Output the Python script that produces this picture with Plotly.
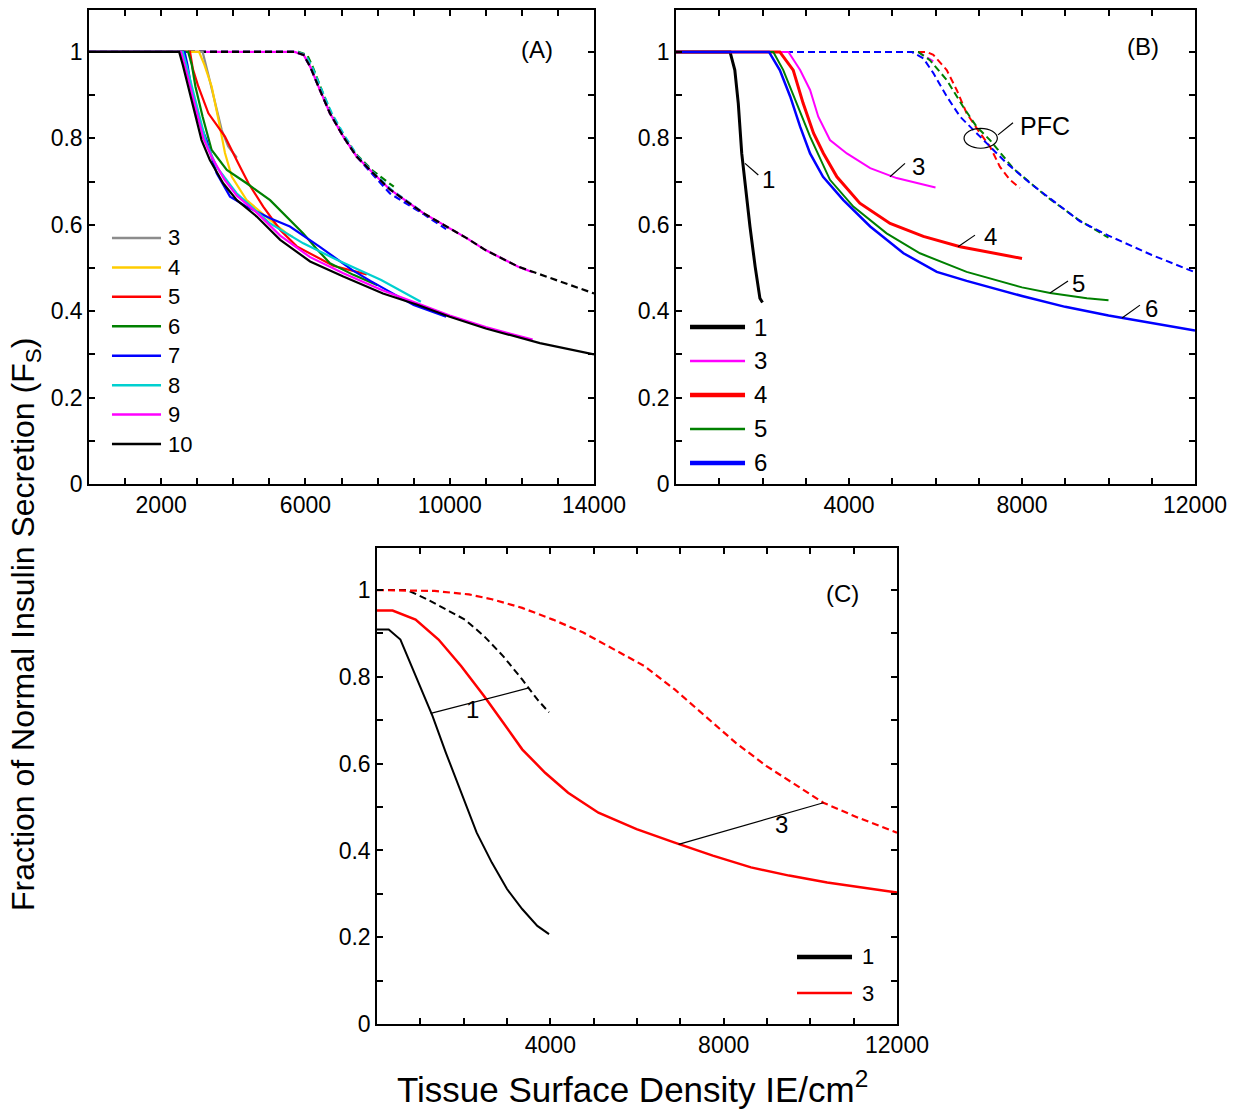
import plotly.graph_objects as go

FONT = "Liberation Sans, Arial, sans-serif"

# ---------------- Panel A data ----------------
A_names = ["3", "4", "5", "6", "7", "8", "9", "10"]
A_colors = ["#8c8c8c", "#ffcc00", "#ff0000", "#008000", "#0000ff", "#00d0d0", "#ff00ff", "#000000"]

A3_x = [0, 3150, 3300, 3490, 3680, 3860, 4100]
A3_y = [1, 1, 0.95, 0.881, 0.819, 0.781, 0.755]
A4_x = [0, 3050, 3200, 3400, 3590, 3770, 3960, 4370, 5020, 5480, 5650]
A4_y = [1, 1, 0.97, 0.92, 0.843, 0.766, 0.711, 0.657, 0.611, 0.58, 0.572]
A5_x = [0, 2800, 2880, 3030, 3310, 3770, 4140, 4420, 4830, 5300, 5760, 6220, 6770, 7700]
A5_y = [1, 1, 0.96, 0.92, 0.858, 0.804, 0.742, 0.696, 0.642, 0.588, 0.55, 0.53, 0.505, 0.485]
A6_x = [0, 2750, 2850, 2950, 3150, 3400, 3820, 4370, 5020, 5570, 5940, 6300, 6680, 7330, 8000]
A6_y = [1, 1, 0.97, 0.92, 0.85, 0.773, 0.727, 0.696, 0.657, 0.611, 0.58, 0.545, 0.511, 0.484, 0.46]
A7_x = [0, 2650, 2730, 2830, 3000, 3260, 3540, 3910, 4370, 5020, 5570, 6400, 7300, 7800, 9000, 9900]
A7_y = [1, 1, 0.97, 0.92, 0.85, 0.796, 0.719, 0.665, 0.642, 0.615, 0.596, 0.549, 0.495, 0.47, 0.414, 0.387]
A8_x = [0, 2600, 2700, 2850, 3050, 3250, 3540, 4090, 5020, 5940, 6870, 8100, 9200]
A8_y = [1, 1, 0.97, 0.92, 0.85, 0.79, 0.734, 0.673, 0.603, 0.557, 0.519, 0.472, 0.422]
A9_x = [0, 2550, 2650, 2800, 3000, 3170, 3400, 3750, 4100, 4650, 5300, 6130, 7050, 8150, 9100, 10000, 11000, 12300]
A9_y = [1, 1, 0.97, 0.92, 0.85, 0.80, 0.757, 0.705, 0.667, 0.628, 0.575, 0.525, 0.488, 0.448, 0.418, 0.39, 0.363, 0.334]
A10_x = [0, 2500, 2600, 2750, 2950, 3120, 3350, 3720, 4100, 4650, 5300, 6130, 7050, 8150, 9100, 10000, 11000, 12500, 14000]
A10_y = [1, 1, 0.97, 0.92, 0.85, 0.796, 0.75, 0.696, 0.657, 0.619, 0.565, 0.515, 0.48, 0.441, 0.415, 0.387, 0.36, 0.326, 0.30]

# dashed (upper) curves, panel A
A3d_x = [0, 4100]
A3d_y = [1, 1]
A4d_x = [0, 5650]
A4d_y = [1, 1]
A5d_x = [0, 5750, 6000, 6150, 6400, 6680, 7050, 7420, 7700]
A5d_y = [1, 1, 0.993, 0.966, 0.912, 0.858, 0.804, 0.758, 0.735]
A6d_x = [0, 5800, 6050, 6200, 6450, 6700, 7050, 7420, 7880, 8450]
A6d_y = [1, 1, 0.993, 0.966, 0.912, 0.86, 0.806, 0.762, 0.724, 0.688]
A7d_x = [0, 5700, 5950, 6130, 6400, 6680, 7050, 7420, 7880, 8350, 9270, 9900]
A7d_y = [1, 1, 0.993, 0.966, 0.912, 0.858, 0.804, 0.758, 0.715, 0.672, 0.625, 0.59]
A8d_x = [0, 5750, 6000, 6180, 6450, 6730, 7100, 7450, 7900, 8400, 9200]
A8d_y = [1, 1, 0.993, 0.966, 0.912, 0.858, 0.804, 0.758, 0.719, 0.68, 0.632]
A9d_x = [0, 5700, 5950, 6130, 6400, 6680, 7050, 7420, 7880, 8350, 9270, 10470, 10980, 11900, 12300]
A9d_y = [1, 1, 0.993, 0.966, 0.912, 0.858, 0.804, 0.758, 0.719, 0.681, 0.627, 0.569, 0.542, 0.503, 0.49]
A10d_x = [0, 5700, 5950, 6130, 6400, 6680, 7050, 7420, 7880, 8350, 9270, 10470, 10980, 11900, 14000]
A10d_y = [1, 1, 0.993, 0.966, 0.912, 0.858, 0.804, 0.758, 0.719, 0.681, 0.627, 0.569, 0.542, 0.503, 0.441]

A_solid = [(A3_x, A3_y), (A4_x, A4_y), (A5_x, A5_y), (A6_x, A6_y),
           (A7_x, A7_y), (A8_x, A8_y), (A9_x, A9_y), (A10_x, A10_y)]
A_dashed = [(A3d_x, A3d_y), (A4d_x, A4d_y), (A5d_x, A5d_y), (A6d_x, A6d_y),
            (A7d_x, A7d_y), (A8d_x, A8d_y), (A9d_x, A9d_y), (A10d_x, A10d_y)]

# ---------------- Panel B data ----------------
B_names = ["1", "3", "4", "5", "6"]
B_colors = ["#000000", "#ff00ff", "#ff0000", "#008000", "#0000ff"]
B_widths = [3, 2, 3, 2, 2.5]
B_leg_widths = [4.5, 2.5, 4.5, 2.5, 4.5]

B1_x = [0, 1250, 1360, 1440, 1520, 1600, 1710, 1830, 1940, 2000]
B1_y = [1, 1, 0.958, 0.881, 0.765, 0.688, 0.596, 0.503, 0.43, 0.42]
B3_x = [0, 2600, 2870, 3100, 3290, 3560, 3950, 4490, 5100, 6000]
B3_y = [1, 1, 0.958, 0.912, 0.85, 0.796, 0.765, 0.731, 0.708, 0.686]
B4_x = [0, 2400, 2710, 2940, 3180, 3410, 3720, 4250, 4950, 5720, 6570, 7300, 8000]
B4_y = [1, 1, 0.958, 0.881, 0.812, 0.765, 0.711, 0.65, 0.603, 0.573, 0.549, 0.535, 0.522]
B5_x = [0, 2250, 2480, 2790, 3100, 3560, 4100, 4870, 5640, 6720, 8000, 8650, 9500, 10000]
B5_y = [1, 1, 0.958, 0.881, 0.804, 0.704, 0.642, 0.58, 0.534, 0.491, 0.455, 0.442, 0.43, 0.425]
B6_x = [0, 2150, 2400, 2640, 2870, 3100, 3400, 3870, 4490, 5260, 6030, 6720, 8000, 9000, 10000, 11000, 12000]
B6_y = [1, 1, 0.958, 0.897, 0.827, 0.765, 0.711, 0.657, 0.596, 0.534, 0.491, 0.47, 0.435, 0.41, 0.39, 0.372, 0.355]

B1d_x = [0, 2000]
B1d_y = [1, 1]
B3d_x = [0, 5600, 6000]
B3d_y = [1, 1, 0.975]
B4d_x = [0, 5800, 5950, 6260, 6490, 6720, 7030, 7260, 7490, 7720, 7950]
B4d_y = [1, 1, 0.993, 0.958, 0.912, 0.858, 0.812, 0.781, 0.734, 0.704, 0.685]
B5d_x = [0, 5600, 5870, 6260, 6640, 6950, 7260, 7800, 8570, 9300, 10000]
B5d_y = [1, 1, 0.981, 0.935, 0.873, 0.827, 0.796, 0.73, 0.665, 0.612, 0.57]
B6d_x = [0, 5450, 5720, 5950, 6260, 6570, 6880, 7180, 7650, 8190, 8800, 9340, 10000, 11000, 12000]
B6d_y = [1, 1, 0.985, 0.951, 0.897, 0.85, 0.819, 0.789, 0.742, 0.696, 0.65, 0.608, 0.575, 0.53, 0.49]

B_solid = [(B1_x, B1_y), (B3_x, B3_y), (B4_x, B4_y), (B5_x, B5_y), (B6_x, B6_y)]
B_dashed = [(B1d_x, B1d_y), (B3d_x, B3d_y), (B4d_x, B4d_y), (B5d_x, B5d_y), (B6d_x, B6d_y)]

# ---------------- Panel C data ----------------
C_names = ["1", "3"]
C_colors = ["#000000", "#ff0000"]
C1_x = [0, 270, 540, 800, 1065, 1280, 1590, 1940, 2300, 2650, 3000, 3350, 3700, 3970]
C1_y = [0.909, 0.909, 0.886, 0.825, 0.764, 0.71, 0.625, 0.533, 0.441, 0.372, 0.311, 0.265, 0.226, 0.207]
C1d_x = [0, 700, 1150, 1590, 2030, 2470, 2910, 3350, 3700, 3970]
C1d_y = [1, 1, 0.979, 0.955, 0.932, 0.894, 0.848, 0.794, 0.748, 0.718]
C3_x = [0, 360, 890, 1420, 1940, 2470, 2910, 3350, 3880, 4410, 5110, 5990, 6870, 7750, 8630, 9510, 10390, 12000]
C3_y = [0.953, 0.953, 0.932, 0.886, 0.825, 0.756, 0.695, 0.633, 0.579, 0.533, 0.487, 0.449, 0.418, 0.388, 0.361, 0.342, 0.326, 0.303]
C3d_x = [0, 1330, 2120, 2650, 3350, 4060, 4760, 5460, 6170, 6870, 7580, 8280, 8980, 9690, 10300, 11090, 12000]
C3d_y = [1, 0.998, 0.99, 0.979, 0.959, 0.932, 0.902, 0.863, 0.825, 0.771, 0.71, 0.648, 0.595, 0.549, 0.51, 0.476, 0.441]

# ---------------- tick labels ----------------
A_xtick_vals = [2000, 6000, 10000, 14000]
A_xtick_text = ["2000", "6000", "10000", "14000"]
BC_xtick_vals = [4000, 8000, 12000]
BC_xtick_text = ["4000", "8000", "12000"]
ytick_vals = [0, 0.2, 0.4, 0.6, 0.8, 1.0]
ytick_text = ["0", "0.2", "0.4", "0.6", "0.8", "1"]

fig = go.Figure()

DASH = "7px,4px"

def add(xs, ys, color, width, dash, ax):
    fig.add_trace(go.Scatter(x=xs, y=ys, mode="lines", showlegend=False, hoverinfo="skip",
                             line=dict(color=color, width=width, dash=dash),
                             xaxis="x" + ax, yaxis="y" + ax))

# Panel A: dashed curves; curve 9 lies directly under curve 10 so it shows in the dash gaps
for k, ((xs, ys), c) in enumerate(zip(A_dashed, A_colors)):
    add(xs, ys, c, 2.2, "solid" if A_names[k] == "9" else DASH, "")
for (xs, ys), c in zip(A_solid, A_colors):
    add(xs, ys, c, 2.2, "solid", "")
# Panel B
for (xs, ys), c in zip(B_dashed, B_colors):
    add(xs, ys, c, 2, DASH, "2")
for (xs, ys), c, w in zip(B_solid, B_colors, B_widths):
    add(xs, ys, c, w, "solid", "2")
# Panel C
add(C1d_x, C1d_y, C_colors[0], 2, DASH, "3")
add(C3d_x, C3d_y, C_colors[1], 2.2, DASH, "3")
add(C1_x, C1_y, C_colors[0], 2, "solid", "3")
add(C3_x, C3_y, C_colors[1], 2.5, "solid", "3")

W, H = 1239, 1115
def xd(a, b): return [a / W, b / W]
def yd(top, bot): return [1 - bot / H, 1 - top / H]

axis_common = dict(showline=True, mirror="ticks", linecolor="black", linewidth=1.5,
                   ticks="inside", ticklen=6, tickwidth=1.5, tickcolor="black",
                   showgrid=False, zeroline=False, automargin=False,
                   tickfont=dict(family=FONT, size=23, color="black"))
xminor = dict(ticks="inside", ticklen=6, tickwidth=1.5, tickcolor="black", tick0=0, dtick=1000, showgrid=False)
yminor = dict(ticks="inside", ticklen=6, tickwidth=1.5, tickcolor="black", tick0=0, dtick=0.1, showgrid=False)

fig.update_layout(
    width=W, height=H, autosize=False, margin=dict(l=0, r=0, t=0, b=0, pad=0),
    paper_bgcolor="white", plot_bgcolor="white",
    xaxis=dict(domain=xd(89, 594), range=[0, 14000], tickvals=A_xtick_vals, ticktext=A_xtick_text, minor=xminor, anchor="y", **axis_common),
    yaxis=dict(domain=yd(10, 484), range=[0, 1.097], tickvals=ytick_vals, ticktext=ytick_text, minor=yminor, anchor="x", **axis_common),
    xaxis2=dict(domain=xd(676, 1195), range=[0, 12000], tickvals=BC_xtick_vals, ticktext=BC_xtick_text, minor=xminor, anchor="y2", **axis_common),
    yaxis2=dict(domain=yd(10, 484), range=[0, 1.097], tickvals=ytick_vals, ticktext=ytick_text, minor=yminor, anchor="x2", **axis_common),
    xaxis3=dict(domain=xd(377, 897), range=[0, 12000], tickvals=BC_xtick_vals, ticktext=BC_xtick_text, minor=xminor, anchor="y3", **axis_common),
    yaxis3=dict(domain=yd(548, 1024), range=[0, 1.097], tickvals=ytick_vals, ticktext=ytick_text, minor=yminor, anchor="x3", **axis_common),
)

shapes = []
annos = []

def txt(text, x, y, xref, yref, size=24, xanchor="center"):
    annos.append(dict(text=text, x=x, y=y, xref=xref, yref=yref, showarrow=False,
                      xanchor=xanchor, yanchor="middle",
                      font=dict(family=FONT, size=size, color="black")))

def seg(x0, y0, x1, y1, xref, yref, color="black", width=1.2):
    shapes.append(dict(type="line", x0=x0, y0=y0, x1=x1, y1=y1, xref=xref, yref=yref,
                       line=dict(color=color, width=width)))

# Panel letters
txt("(A)", 12420, 1.005, "x", "y")
txt("(B)", 10800, 1.012, "x2", "y2")
txt("(C)", 10750, 0.991, "x3", "y3")

# Legend A
for i, (n, c) in enumerate(zip(A_names, A_colors)):
    yy = 0.519 - i * 0.0621
    seg(0.0455, yy, 0.1426, yy, "x domain", "y domain", c, 2.5)
    txt(n, 0.152, yy, "x domain", "y domain", 22, "left")

# Legend B
for i, (n, c, w) in enumerate(zip(B_names, B_colors, B_leg_widths)):
    yy = 0.3312 - i * 0.0717
    seg(0.027, yy, 0.133, yy, "x2 domain", "y2 domain", c, w)
    txt(n, 0.146, yy, "x2 domain", "y2 domain", 24, "left")

# Legend C
for i, (n, c, w) in enumerate(zip(C_names, C_colors, [4.5, 2.5])):
    yy = 0.1408 - i * 0.0757
    seg(0.8077, yy, 0.9135, yy, "x3 domain", "y3 domain", c, w)
    txt(n, 0.928, yy, "x3 domain", "y3 domain", 22, "left")

# Panel B curve labels
seg(1595, 0.742, 1903, 0.715, "x2", "y2")
txt("1", 2150, 0.704, "x2", "y2")
seg(4948, 0.711, 5295, 0.742, "x2", "y2")
txt("3", 5600, 0.734, "x2", "y2")
seg(6520, 0.549, 6913, 0.576, "x2", "y2")
txt("4", 7283, 0.572, "x2", "y2")
seg(8647, 0.442, 9064, 0.47, "x2", "y2")
txt("5", 9295, 0.465, "x2", "y2")
seg(10312, 0.384, 10728, 0.414, "x2", "y2")
txt("6", 10983, 0.407, "x2", "y2")
shapes.append(dict(type="circle", x0=7045 - 385, x1=7045 + 385, y0=0.80 - 0.023, y1=0.80 + 0.023,
                   xref="x2", yref="y2", line=dict(color="black", width=1.2)))
seg(7445, 0.808, 7792, 0.836, "x2", "y2")
txt("PFC", 7900, 0.829, "x2", "y2", 25, "left")

# Panel C curve labels
seg(1240, 0.716, 3484, 0.774, "x3", "y3")
txt("1", 2208, 0.725, "x3", "y3")
seg(6959, 0.414, 10303, 0.51, "x3", "y3")
txt("3", 9335, 0.46, "x3", "y3")

# Axis titles
annos.append(dict(text="Fraction of Normal Insulin Secretion (F<sub>S</sub>)", x=25 / W, y=1 - 625 / H,
                  xref="paper", yref="paper", showarrow=False, textangle=-90,
                  xanchor="center", yanchor="middle",
                  font=dict(family=FONT, size=32, color="black")))
annos.append(dict(text="Tissue Surface Density IE/cm<sup>2</sup>", x=632 / W, y=1 - 1087 / H,
                  xref="paper", yref="paper", showarrow=False,
                  xanchor="center", yanchor="middle",
                  font=dict(family=FONT, size=35, color="black")))

fig.update_layout(shapes=shapes, annotations=annos)
fig.write_html("out.html")
